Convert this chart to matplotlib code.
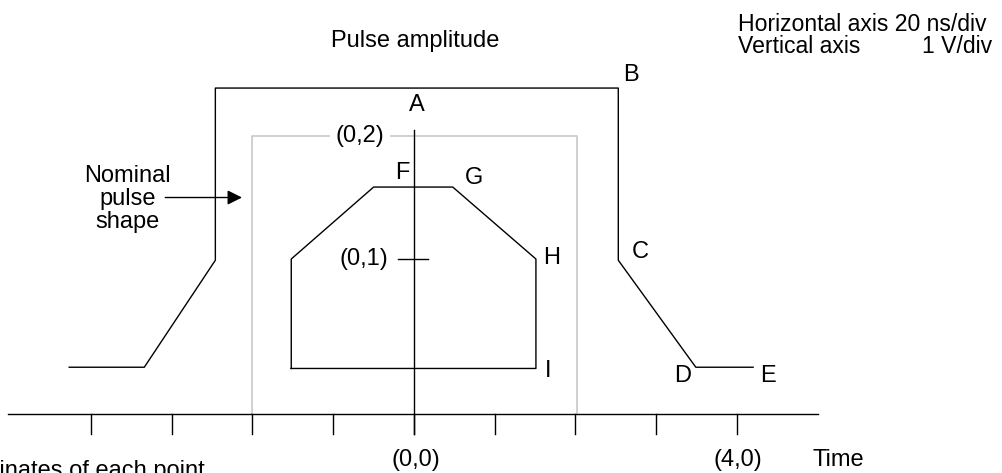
"""
Pulse mask for an interface pulse (outer limit, nominal shape, inner limit)
"""

import matplotlib
matplotlib.use('Agg')
import matplotlib.pyplot as plt

plt.rcParams['font.family'] = ['Liberation Sans', 'DejaVu Sans']

# x in divisions (20 ns/div), y in volts (1 V/div)
outer_x = [-4.27, -3.34, -2.46, -2.46, 2.53, 2.53, 3.49, 4.20]
outer_y = [0.12, 0.12, 0.99, 2.39, 2.39, 0.99, 0.12, 0.12]

inner_x = [-1.52, -1.52, -0.50, 0.48, 1.51, 1.51, -1.52]
inner_y = [0.11, 1.00, 1.585, 1.585, 1.00, 0.11, 0.11]

nominal_x = [-2.0, -2.0, 2.02, 2.02]
nominal_y = [-0.26, 2.0, 2.0, -0.26]

tick_x = [-4, -3, -2, -1, 0, 1, 2, 3, 4]
axis_y = -0.26
tick_len = 0.165

point_names = ['A', 'B', 'C', 'D', 'E', 'F', 'G', 'H', 'I']
point_x = [0.04, 2.69, 2.80, 3.33, 4.38, -0.15, 0.74, 1.71, 1.66]
point_y = [2.25, 2.50, 1.06, 0.05, 0.05, 1.70, 1.66, 1.01, 0.09]

fs = 17

fig = plt.figure(figsize=(10.02, 4.73), dpi=100)
ax = fig.add_axes([0, 0, 1, 1])
ax.set_xlim(-5.127, 7.282)
ax.set_ylim(-0.740, 3.106)
ax.axis('off')

# nominal pulse shape (grey)
ax.plot(nominal_x, nominal_y, color='#c8c8c8', lw=1.2, zorder=1)

# outer and inner limits
ax.plot(outer_x, outer_y, color='black', lw=1.0, zorder=2)
ax.plot(inner_x, inner_y, color='black', lw=1.0, zorder=2)

# time axis with ticks
ax.plot([-5.03, 5.0], [axis_y, axis_y], color='black', lw=1.0)
for t in tick_x:
    ax.plot([t, t], [axis_y, axis_y - tick_len], color='black', lw=1.0)

# amplitude axis
ax.plot([0, 0], [2.05, axis_y - tick_len], color='black', lw=1.0, zorder=3)
ax.plot([-0.2, 0.17], [1.0, 1.0], color='black', lw=1.0)

# point labels
for name, px, py in zip(point_names, point_x, point_y):
    ax.text(px, py, name, fontsize=fs, ha='center', va='center')

ax.text(-0.67, 2.0, '(0,2)', fontsize=fs, ha='center', va='center',
        bbox=dict(facecolor='white', edgecolor='none', pad=4), zorder=4)
ax.text(-0.32, 1.0, '(0,1)', fontsize=fs, ha='right', va='center')

ax.text(0.02, 2.77, 'Pulse amplitude', fontsize=fs, ha='center', va='center')
ax.text(4.01, 2.91, 'Horizontal axis 20 ns/div', fontsize=16.6, ha='left', va='center')
ax.text(4.01, 2.73, 'Vertical axis', fontsize=16.6, ha='left', va='center')
ax.text(7.16, 2.73, '1 V/div', fontsize=16.6, ha='right', va='center')

ax.text(-3.55, 1.49, 'Nominal\npulse\nshape', fontsize=fs, ha='center', va='center',
        linespacing=1.05)
ax.annotate('', xy=(-2.13, 1.5), xytext=(-3.08, 1.5),
            arrowprops=dict(arrowstyle='-|>', color='black', lw=1.0,
                            mutation_scale=22, shrinkA=0, shrinkB=0))

ax.text(0.02, -0.635, '(0,0)', fontsize=fs, ha='center', va='center')
ax.text(4.01, -0.635, '(4,0)', fontsize=fs, ha='center', va='center')
ax.text(4.93, -0.635, 'Time', fontsize=fs, ha='left', va='center')
ax.text(-5.93, -0.775, 'Coordinates of each point', fontsize=fs, ha='left', va='baseline')

plt.savefig('out.png', dpi=100)
